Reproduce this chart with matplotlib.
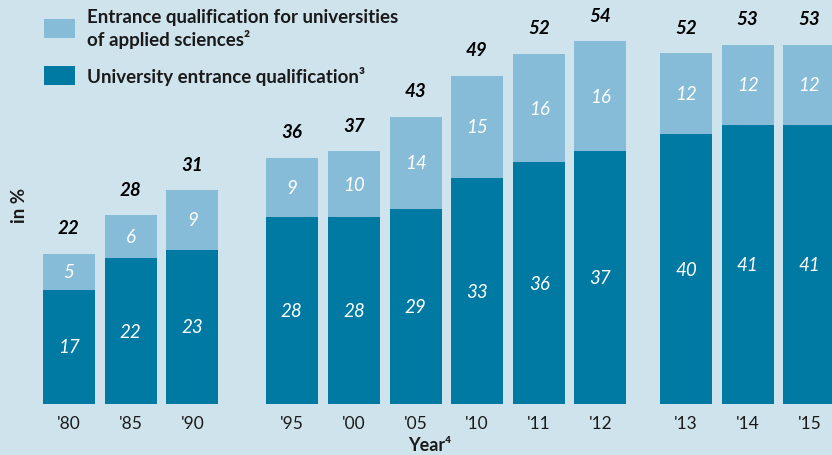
import matplotlib
matplotlib.use('Agg')
import matplotlib.pyplot as plt

years = ["'80", "'85", "'90", "'95", "'00", "'05", "'10", "'11", "'12", "'13", "'14", "'15"]
# bar heights (unrounded)
university = [17.0, 21.7, 23.0, 27.9, 27.8, 29.0, 33.6, 36.0, 37.6, 40.2, 41.5, 41.5]
applied = [5.4, 6.4, 8.8, 8.8, 9.8, 13.8, 15.3, 16.1, 16.4, 12.0, 12.0, 12.0]
# printed labels
university_labels = [17, 22, 23, 28, 28, 29, 33, 36, 37, 40, 41, 41]
applied_labels = [5, 6, 9, 9, 10, 14, 15, 16, 16, 12, 12, 12]
total_labels = [22, 28, 31, 36, 37, 43, 49, 52, 54, 52, 53, 53]
# gaps between the three groups of years
positions = [0, 1, 2, 3.61, 4.62, 5.62, 6.61, 7.62, 8.61, 10, 11, 12]

BG = '#cfe3ed'
DARK = '#0079a3'
LIGHT = '#86bcd8'
TEXT = '#1a1a1a'
FONT = ['Lato', 'DejaVu Sans']

plt.rcParams['font.family'] = FONT

fig = plt.figure(figsize=(8.32, 4.56), dpi=100, facecolor=BG)
ax = fig.add_axes([0, 0.1118, 1, 0.8882])
ax.set_facecolor(BG)

dark_bars = ax.bar(positions, university, width=0.843, color=DARK)
light_bars = ax.bar(positions, applied, width=0.843, bottom=university, color=LIGHT)

for x, u, a, ul, al, tl in zip(positions, university, applied,
                               university_labels, applied_labels, total_labels):
    ax.text(x, u / 2, str(ul), ha='center', va='center', color='white',
            style='italic', fontsize=13.5)
    ax.text(x, u + a / 2, str(al), ha='center', va='center', color='white',
            style='italic', fontsize=13.5)
    ax.text(x, u + a + 3.9, str(tl), ha='center', va='center', color='black',
            style='italic', weight='bold', fontsize=13.5)

ax.set_xlim(-1.118, 12.366)
ax.set_ylim(0, 60.3)
for s in ax.spines.values():
    s.set_visible(False)
ax.set_yticks([])
ax.set_xticks(positions)
ax.set_xticklabels(years, fontsize=12.5, color=TEXT)
ax.tick_params(axis='x', length=0, pad=8)

ax.legend([light_bars, dark_bars],
          ['Entrance qualification for universities\nof applied sciences\u00b2',
           'University entrance qualification\u00b3'],
          loc='upper left', bbox_to_anchor=(0.0529, 0.977), frameon=False,
          prop={'family': FONT, 'weight': 'bold', 'size': 13.5},
          handlelength=1.65, handleheight=1.18, handletextpad=0.62,
          labelspacing=1.0, borderaxespad=0, borderpad=0)
for t in ax.get_legend().get_texts():
    t.set_color(TEXT)

fig.text(0.024, 0.55, 'in %', rotation=90, ha='center', va='center',
         weight='bold', fontsize=13.5, color=TEXT)
fig.text(0.517, 0.022, 'Year\u2074', ha='center', va='center',
         weight='bold', fontsize=13, color=TEXT)

fig.savefig('out.png', dpi=100, facecolor=BG)
